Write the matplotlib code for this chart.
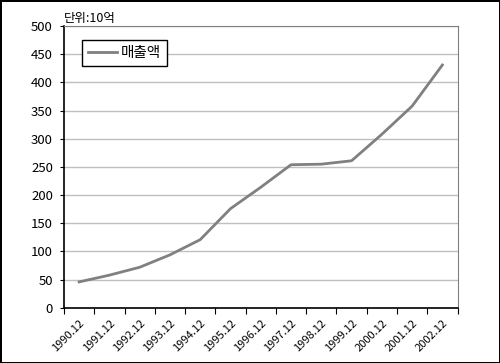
import matplotlib
matplotlib.use("Agg")
import matplotlib.pyplot as plt
import numpy as np

plt.rcParams['font.family'] = ['Noto Sans CJK KR', 'DejaVu Sans']

# data (unit: 10억)
periods = ["1990.12", "1991.12", "1992.12", "1993.12", "1994.12", "1995.12", "1996.12",
           "1997.12", "1998.12", "1999.12", "2000.12", "2001.12", "2002.12"]
sales = [46, 58, 72, 94, 121, 176, 214, 254, 255, 261, 308, 358, 431]
y_ticks = [0, 50, 100, 150, 200, 250, 300, 350, 400, 450, 500]

fig = plt.figure(figsize=(5.0, 3.63), dpi=100)
fig.patch.set_edgecolor("black")
fig.patch.set_linewidth(2)
ax = fig.add_axes([0.128, 0.152, 0.787, 0.776])

x = np.arange(len(periods))
ax.plot(x, sales, color="#808080", lw=2, label="매출액")

ax.set_xlim(-0.5, len(periods) - 0.5)
ax.set_ylim(0, 500)
ax.set_yticks(y_ticks)
ax.yaxis.grid(True, color="#c0c0c0", lw=1)
ax.set_axisbelow(True)

# ticks at category boundaries, labels at centres
ax.set_xticks(np.arange(len(periods) + 1) - 0.5)
ax.set_xticklabels([])
ax.set_xticks(x, minor=True)
ax.set_xticklabels(periods, minor=True, rotation=45, ha="right",
                   rotation_mode="anchor", fontsize=8)
ax.tick_params(axis="x", which="minor", length=0, pad=7)
ax.tick_params(axis="x", which="major", length=4, direction="out")
ax.tick_params(axis="y", length=3, labelsize=9.5, pad=5)

for side in ["top", "right"]:
    ax.spines[side].set_color("#808080")
for side in ["left", "bottom"]:
    ax.spines[side].set_color("black")
    ax.spines[side].set_linewidth(1.2)

ax.text(0.0, 1.005, "단위:10억", transform=ax.transAxes, fontsize=9,
        ha="left", va="bottom")

leg = ax.legend(loc="upper left", bbox_to_anchor=(0.045, 0.95), fancybox=False,
                framealpha=1, edgecolor="black", fontsize=10.5, handlelength=2.0,
                borderpad=0.4, handletextpad=0.3, borderaxespad=0.0)
leg.get_frame().set_linewidth(1)

fig.savefig("out.png", dpi=100)
